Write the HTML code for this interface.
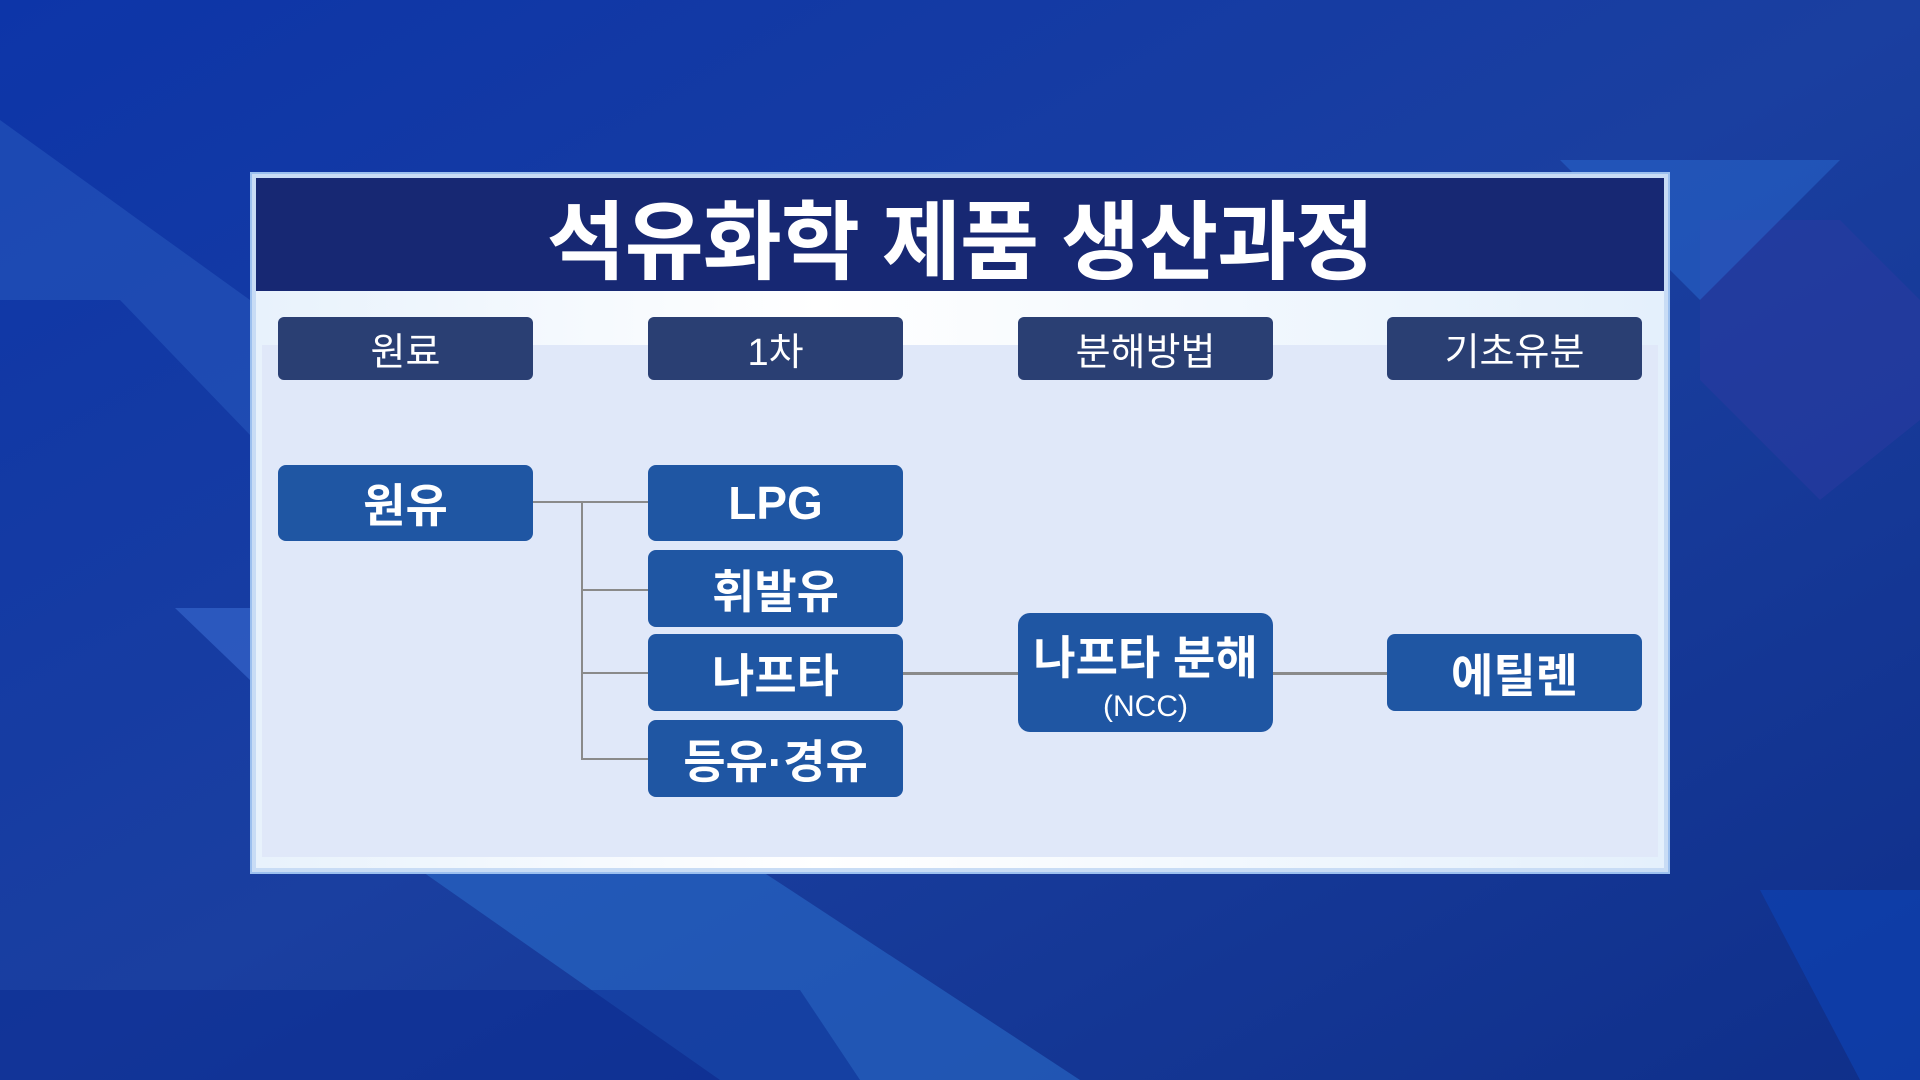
<!DOCTYPE html>
<html><head><meta charset="utf-8"><style>
body{margin:0;width:1920px;height:1080px;overflow:hidden;background:#1437a0;font-family:"Liberation Sans","Noto Sans CJK KR",sans-serif}
.a{position:absolute}
.h{position:absolute;background:#2a3f73;color:#fff;border-radius:6px;display:flex;align-items:center;justify-content:center;font-size:38px;width:255px;height:63px;top:317px}
.n{position:absolute;background:#1f56a3;color:#fff;border-radius:8px;display:flex;flex-direction:column;align-items:center;justify-content:center;font-size:46px;font-weight:bold;width:255px;height:77px}
.l{position:absolute;background:#8a8a8a}
</style></head><body>
<svg class="a" style="left:0;top:0" width="1920" height="1080">
<defs><linearGradient id="g" x1="0" y1="0" x2="1" y2="1"><stop offset="0" stop-color="#0d35a8"/><stop offset="0.5" stop-color="#1a3fa0"/><stop offset="1" stop-color="#0f2f8a"/></linearGradient></defs>
<rect width="1920" height="1080" fill="url(#g)"/>
<polygon points="0,120 0,300 120,300 250,435 250,300" fill="#2a5cc0" opacity="0.5"/>
<polygon points="420,870 720,1080 1080,1080 760,870" fill="#2a6ac8" opacity="0.6"/>
<polygon points="175,608 250,608 250,680" fill="#3a6ad0" opacity="0.6"/>
<polygon points="1700,220 1840,220 1920,300 1920,420 1820,500 1700,380" fill="#2a3aa0" opacity="0.6"/>
<polygon points="1560,160 1840,160 1700,300" fill="#2a6ad0" opacity="0.5"/>
<polygon points="0,990 800,990 860,1080 0,1080" fill="#0a2a90" opacity="0.5"/>
<polygon points="1760,890 1920,890 1920,1080 1860,1080" fill="#0e45b8" opacity="0.6"/>
</svg>
<div class="a" style="left:252px;top:174px;width:1416px;height:698px;background:#c8dcf5;box-shadow:0 0 0 2px #9cc0ef"></div>
<div class="a" style="left:256px;top:178px;width:1408px;height:690px;background:linear-gradient(90deg,#e8f2fc,#ffffff 40%,#e4f0fc)"></div>
<div class="a" style="left:256px;top:178px;width:1408px;height:113px;background:#172873;color:#fff;font-size:86px;font-weight:bold;display:flex;align-items:center;justify-content:center;letter-spacing:-1px">석유화학 제품 생산과정</div>
<div class="a" style="left:262px;top:345px;width:1396px;height:512px;background:#e0e8f9"></div>
<div class="h" style="left:278px">원료</div>
<div class="h" style="left:648px">1차</div>
<div class="h" style="left:1018px">분해방법</div>
<div class="h" style="left:1387px">기초유분</div>
<div class="l" style="left:533px;top:501px;width:115px;height:2px"></div>
<div class="l" style="left:581px;top:501px;width:2px;height:259px"></div>
<div class="l" style="left:581px;top:589px;width:67px;height:2px"></div>
<div class="l" style="left:581px;top:672px;width:67px;height:2px"></div>
<div class="l" style="left:581px;top:758px;width:67px;height:2px"></div>
<div class="l" style="left:902px;top:672px;width:485px;height:3px"></div>
<div class="n" style="left:278px;top:465px;height:76px">원유</div>
<div class="n" style="left:648px;top:465px;height:76px">LPG</div>
<div class="n" style="left:648px;top:550px">휘발유</div>
<div class="n" style="left:648px;top:634px">나프타</div>
<div class="n" style="left:648px;top:720px">등유·경유</div>
<div class="n" style="left:1018px;top:613px;height:119px;border-radius:12px"><div>나프타 분해</div><div style="font-size:30px;font-weight:normal;margin-top:2px">(NCC)</div></div>
<div class="n" style="left:1387px;top:634px">에틸렌</div>
</body></html>
